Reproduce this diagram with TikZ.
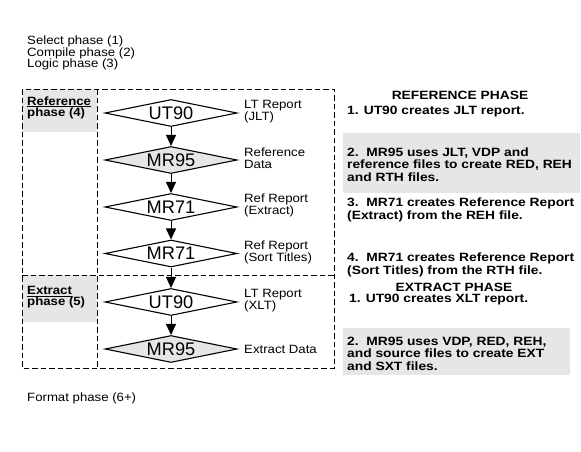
\documentclass[tikz,border=0pt]{standalone}
\usepackage{fontspec}
\setmainfont{Liberation Sans}
\newfontfamily\lsans{Liberation Sans}[FakeStretch=1.1]
\newfontfamily\lsansw{Liberation Sans}[FakeStretch=1.15]
\usetikzlibrary{shapes.geometric,arrows.meta}
\definecolor{lgray}{RGB}{230,230,230}
\begin{document}
\begin{tikzpicture}[x=1pt,y=-1pt,
 txt/.style={font=\lsans\fontsize{12}{12}\selectfont,inner sep=0,anchor=west,align=left},
 lbl/.style={font=\lsans\bfseries\fontsize{12}{11}\selectfont,inner sep=0,anchor=west,align=left},
 btxt/.style={font=\lsansw\bfseries\fontsize{12}{12.5}\selectfont,inner sep=0,anchor=west,align=left},
 hdr/.style={font=\lsansw\bfseries\fontsize{12}{12.5}\selectfont,inner sep=0},
 dia/.style={diamond,draw,line width=1.1pt,aspect=4.9,minimum width=132pt,minimum height=27pt,inner sep=0,font=\fontsize{18.2}{20}\selectfont},
 graydia/.style={dia,fill=lgray},
 flow/.style={-{Triangle[length=11pt,width=10pt]},line width=1pt},
 frame/.style={dash pattern=on 5.5pt off 3pt,line width=0.9pt}]
\useasboundingbox (0,0) rectangle (581,452);
% gray boxes
\fill[lgray] (22,89) rectangle (97,132);
\fill[lgray] (22,275) rectangle (97,322);
\fill[lgray] (343,133) rectangle (580,193);
\fill[lgray] (343,328) rectangle (570,375);
% dashed frame
\draw[frame] (22,89) rectangle (334,368);
\draw[frame] (97,89) -- (97,368);
\draw[frame] (22,275) -- (334,275);
% top texts
\node[txt] (sel) at (27,41.5) {Select phase (1)};
\node[txt] (comp) at (27,53) {Compile phase (2)};
\node[txt] (logic) at (27,64.5) {Logic phase (3)};
\node[lbl] (refl) at (27,107.5) {\underline{Reference}\\phase (4)};
\node[lbl] (extl) at (27,297.5) {\underline{Extract}\\phase (5)};
\node[txt] (fmt) at (27,398) {Format phase (6+)};
% diamonds
\node[dia] (d1) at (171,113) {UT90};
\node[graydia] (d2) at (171,160) {MR95};
\node[dia] (d3) at (171,207) {MR71};
\node[dia] (d4) at (171,253.5) {MR71};
\node[dia] (d5) at (171,302) {UT90};
\node[graydia] (d6) at (171,349) {MR95};
\draw[flow] (d1.south) -- (d2.north);
\draw[flow] (d2.south) -- (d3.north);
\draw[flow] (d3.south) -- (d4.north);
\draw[flow] (d4.south) -- (d5.north);
\draw[flow] (d5.south) -- (d6.north);
% diamond labels
\node[txt] (l1) at (244,111.5) {LT Report\\(JLT)};
\node[txt] (l2) at (244,158.5) {Reference\\Data};
\node[txt] (l3) at (244,205.5) {Ref Report\\(Extract)};
\node[txt] (l4) at (244,252) {Ref Report\\(Sort Titles)};
\node[txt] (l5) at (244,300.5) {LT Report\\(XLT)};
\node[txt] (l6) at (244,349) {Extract Data};
% right texts
\node[hdr] (rh) at (460,95) {REFERENCE PHASE};
\node[btxt] (r1) at (347,112) {1. UT90 creates JLT report.};
\node[btxt] (r2) at (347,164.5) {2.\ \ MR95 uses JLT, VDP and\\reference files to create RED, REH\\and RTH files.};
\node[btxt] (r3) at (347,210) {3.\ \ MR71 creates Reference Report\\(Extract) from the REH file.};
\node[btxt] (r4) at (347,265) {4.\ \ MR71 creates Reference Report\\(Sort Titles) from the RTH file.};
\node[hdr] (eh) at (454,287) {EXTRACT PHASE};
\node[btxt] (e1) at (349,300) {1. UT90 creates XLT report.};
\node[btxt] (e2) at (347,353.5) {2.\ \ MR95 uses VDP, RED, REH,\\and source files to create EXT\\and SXT files.};
\end{tikzpicture}
\end{document}
